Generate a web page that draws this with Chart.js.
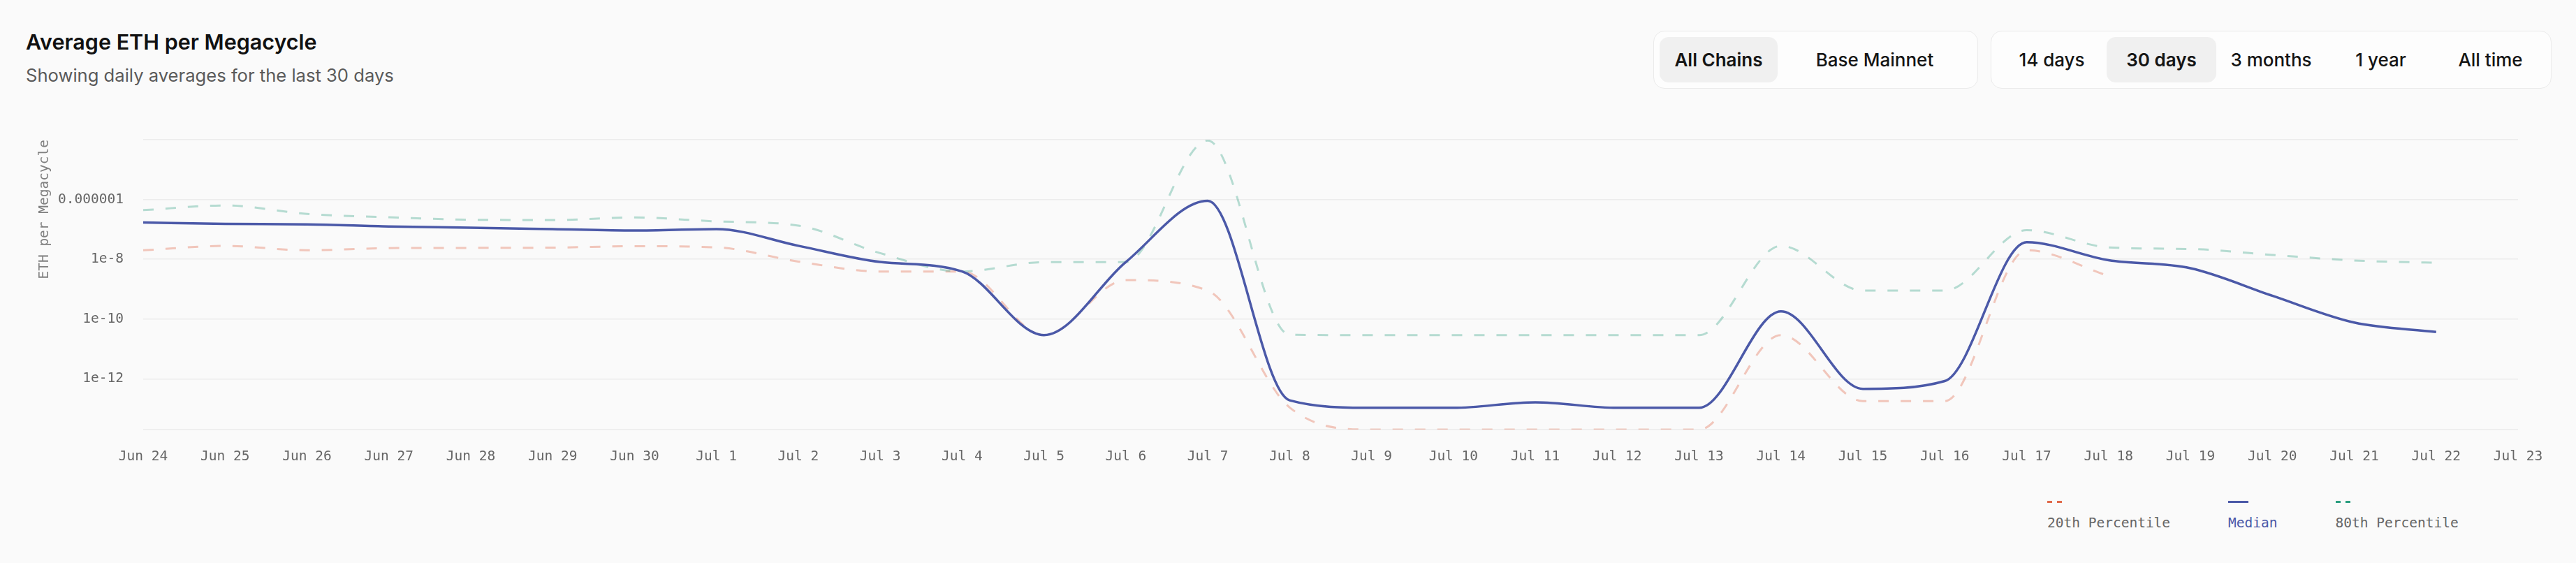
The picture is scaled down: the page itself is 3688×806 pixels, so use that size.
<!DOCTYPE html>
<html>
<head>
<meta charset="utf-8">
<script src="https://cdn.jsdelivr.net/npm/chart.js@4"></script>
<style>
  html, body { margin: 0; padding: 0; background: #fafafa; }
  body { width: 3688px; height: 806px; position: relative; overflow: hidden; font-family: Inter, "Noto Sans", sans-serif; }
  .title { position: absolute; left: 37px; top: 45px; font-size: 30.5px; line-height: 30.5px; font-weight: 600; color: #111; white-space: nowrap; }
  .subtitle { position: absolute; left: 37px; top: 95px; font-size: 25.6px; line-height: 25.6px; color: #5a5a5a; white-space: nowrap; }
  .group { position: absolute; top: 44px; height: 83px; box-sizing: border-box; border: 1.5px solid #ebebeb; border-radius: 16px; background: #fdfdfd; display: flex; align-items: center; padding: 0 8px; }
  .btn { height: 65px; display: flex; align-items: center; justify-content: center; font-size: 26px; font-weight: 500; color: #151515; border-radius: 13px; white-space: nowrap; }
  .btn.active { background: #f0f0f0; font-weight: 600; }
  #wrap { position: absolute; left: 0; top: 170px; width: 3688px; height: 520px; }
  #legend { position: absolute; left: 2931px; top: 717px; display: flex; gap: 83px; font-family: "DejaVu Sans Mono", monospace; font-size: 19.5px; }
  .item { display: flex; flex-direction: column; align-items: flex-start; }
  .mark { height: 3px; display: flex; gap: 7px; }
  .mark span { display: block; width: 7px; height: 3px; }
  .txt { margin-top: 19px; line-height: 20px; white-space: nowrap; color: #666; }
</style>
</head>
<body>
<div class="title">Average ETH per Megacycle</div>
<div class="subtitle">Showing daily averages for the last 30 days</div>

<div class="group" style="left:2367px;">
  <div class="btn active" style="width:169px;">All Chains</div>
  <div class="btn" style="width:278px;">Base Mainnet</div>
</div>
<div class="group" style="left:2850px;">
  <div class="btn" style="width:157px;">14 days</div>
  <div class="btn active" style="width:157px;">30 days</div>
  <div class="btn" style="width:157px;">3 months</div>
  <div class="btn" style="width:157px;">1 year</div>
  <div class="btn" style="width:157px;">All time</div>
</div>

<div id="wrap"><canvas id="ethChart"></canvas></div>
<div id="legend"></div>

<script>
// days on the x axis (last one has no data yet)
const days = ['Jun 24', 'Jun 25', 'Jun 26', 'Jun 27', 'Jun 28', 'Jun 29', 'Jun 30',
    'Jul 1', 'Jul 2', 'Jul 3', 'Jul 4', 'Jul 5', 'Jul 6', 'Jul 7', 'Jul 8', 'Jul 9',
    'Jul 10', 'Jul 11', 'Jul 12', 'Jul 13', 'Jul 14', 'Jul 15', 'Jul 16', 'Jul 17',
    'Jul 18', 'Jul 19', 'Jul 20', 'Jul 21', 'Jul 22', 'Jul 23'];

const p20 = [2.0e-8, 2.8e-8, 2.0e-8, 2.36e-8, 2.4e-8, 2.45e-8, 2.73e-8,
    2.5e-8, 8.4e-9, 3.9e-9, 3.9e-9, 2.9e-11, 2.0e-9, 8.9e-10, 1.1e-13, 2e-14,
    2e-14, 2e-14, 2e-14, 2e-14, 2.9e-11, 1.8e-13, 1.8e-13, 2.0e-8,
    2.75e-9, null, null, null, null, null];

const median = [1.7e-7, 1.52e-7, 1.47e-7, 1.25e-7, 1.14e-7, 1.02e-7, 9.1e-8,
    1.02e-7, 2.82e-8, 8.1e-9, 3.9e-9, 2.9e-11, 8.1e-9, 9.0e-7, 1.9e-13, 1.07e-13,
    1.07e-13, 1.64e-13, 1.07e-13, 1.07e-13, 1.8e-10, 4.6e-13, 8.4e-13, 3.7e-8,
    9.3e-9, 5.0e-9, 6.0e-10, 7.6e-11, 3.7e-11, null];

const p80 = [4.4e-7, 6.3e-7, 3.3e-7, 2.55e-7, 2.1e-7, 2.06e-7, 2.5e-7,
    1.85e-7, 1.34e-7, 1.6e-8, 3.9e-9, 8.0e-9, 8.1e-9, 9.4e-5, 3.0e-11, 2.9e-11,
    2.9e-11, 2.9e-11, 2.9e-11, 2.9e-11, 2.8e-8, 8.9e-10, 8.9e-10, 9.4e-8,
    2.5e-8, 2.2e-8, 1.4e-8, 9.1e-9, 7.6e-9, null];

// labelled y ticks, plus the axis ends
const yTicks = [1e-12, 1e-10, 1e-8, 1e-6];
const yMin = 2e-14;
const yMax = 1e-4;

const monoFont = { family: 'DejaVu Sans Mono', size: 19.5 };

const datasets = [
    { label: '20th Percentile', data: p20, borderColor: 'rgba(224,106,74,0.36)', key: '#e06a4a', dashed: true, borderWidth: 3, borderDash: [15, 17], order: 2 },
    { label: 'Median', data: median, borderColor: '#4b59a8', key: '#4b59a8', dashed: false, borderWidth: 3.5, order: 0 },
    { label: '80th Percentile', data: p80, borderColor: 'rgba(42,157,127,0.33)', key: '#2a9d7f', dashed: true, borderWidth: 3, borderDash: [15, 17], order: 1 },
];

const chart = new Chart(document.getElementById('ethChart'), {
    type: 'line',
    data: {
        labels: days,
        datasets: datasets.map(d => ({
            label: d.label,
            data: d.data,
            borderColor: d.borderColor,
            borderWidth: d.borderWidth,
            borderDash: d.borderDash || [],
            cubicInterpolationMode: 'monotone',
            pointRadius: 0,
            fill: false,
            spanGaps: false,
            order: d.order,
        })),
    },
    options: {
        responsive: true,
        maintainAspectRatio: false,
        animation: false,
        devicePixelRatio: 1,
        layout: { padding: { top: 30, right: 83, left: 0, bottom: 0 } },
        plugins: { legend: { display: false }, tooltip: { enabled: false } },
        scales: {
            x: {
                type: 'category',
                offset: false,
                grid: { display: false, drawTicks: false },
                border: { display: false },
                ticks: { font: monoFont, color: '#666', padding: 27, maxRotation: 0, autoSkip: false },
                afterFit: s => { s.height = 75; },
            },
            y: {
                type: 'logarithmic',
                min: yMin,
                max: yMax,
                bounds: 'data',
                grid: { color: '#ececec', lineWidth: 1.5, drawTicks: false },
                border: { display: false },
                ticks: {
                    font: monoFont,
                    color: '#666',
                    padding: 28,
                    callback: v => (yTicks.includes(v) ? String(v) : ''),
                },
                afterBuildTicks: s => {
                    s.ticks = [yMin, ...yTicks, yMax].map(v => ({ value: v }));
                },
                afterFit: s => {
                    s.width = 205;
                    // keep the tick padding from pushing the plot top down
                    s.paddingTop = 0;
                    s.paddingBottom = 0;
                },
                title: {
                    display: true,
                    text: 'ETH per Megacycle',
                    align: 'end',
                    color: '#808080',
                    font: monoFont,
                    padding: { top: 52, bottom: 0 },
                },
            },
        },
    },
});

// legend: short key line above each label
const legend = document.getElementById('legend');
datasets.forEach(d => {
    const item = document.createElement('div');
    item.className = 'item';
    const mark = document.createElement('div');
    mark.className = 'mark';
    if (d.dashed) {
        mark.innerHTML = `<span style="background:${d.key}"></span><span style="background:${d.key}"></span>`;
    } else {
        mark.innerHTML = `<span style="width:29px;background:${d.key}"></span>`;
    }
    const txt = document.createElement('div');
    txt.className = 'txt';
    txt.textContent = d.label;
    if (!d.dashed) txt.style.color = d.key;
    item.appendChild(mark);
    item.appendChild(txt);
    legend.appendChild(item);
});
</script>
</body>
</html>
